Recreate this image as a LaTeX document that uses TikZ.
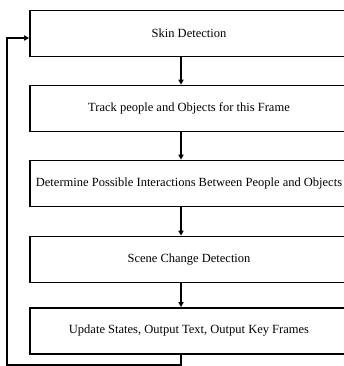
\documentclass[tikz,border=0pt]{standalone}
\usepackage{fontspec}
\setmainfont{Liberation Serif}
\usetikzlibrary{positioning, arrows.meta}

\tikzset{
	stage/.style = {draw, line width=1.6pt, minimum width=318pt, minimum height=46pt, inner sep=0pt, font=\fontsize{12.5}{14}\selectfont},
	flow/.style = {-{Triangle[length=5pt, width=5pt]}, line width=1.6pt}
}

\begin{document}
\begin{tikzpicture}[x=1pt, y=-1pt]
	\useasboundingbox (0,0) rectangle (344,366);
	\clip (0,0) rectangle (344,366);
	\node[stage] at (189, 33.5) (skin) {Skin Detection};
	\node[stage] at (189, 108.5) (track) {Track people and Objects for this Frame};
	\node[stage] at (189, 183.5) (inter) {Determine Possible Interactions Between People and Objects};
	\node[stage] at (189, 259.5) (scene) {Scene Change Detection};
	\node[stage] at (189, 331) (update) {Update States, Output Text, Output Key Frames};
	\coordinate (loop) at (7, 365);
	\draw[flow] ([xshift=-8pt]skin.south) -- ([xshift=-8pt]track.north);
	\draw[flow] ([xshift=-8pt]track.south) -- ([xshift=-8pt]inter.north);
	\draw[flow] ([xshift=-8pt]inter.south) -- ([xshift=-8pt]scene.north);
	\draw[flow] ([xshift=-8pt]scene.south) -- ([xshift=-8pt]update.north);
	\draw[flow] ([xshift=-8pt]update.south) -- ([xshift=-8pt]update.south |- loop) -- (loop) |- ([yshift=-4.5pt]skin.west);
\end{tikzpicture}
\end{document}
